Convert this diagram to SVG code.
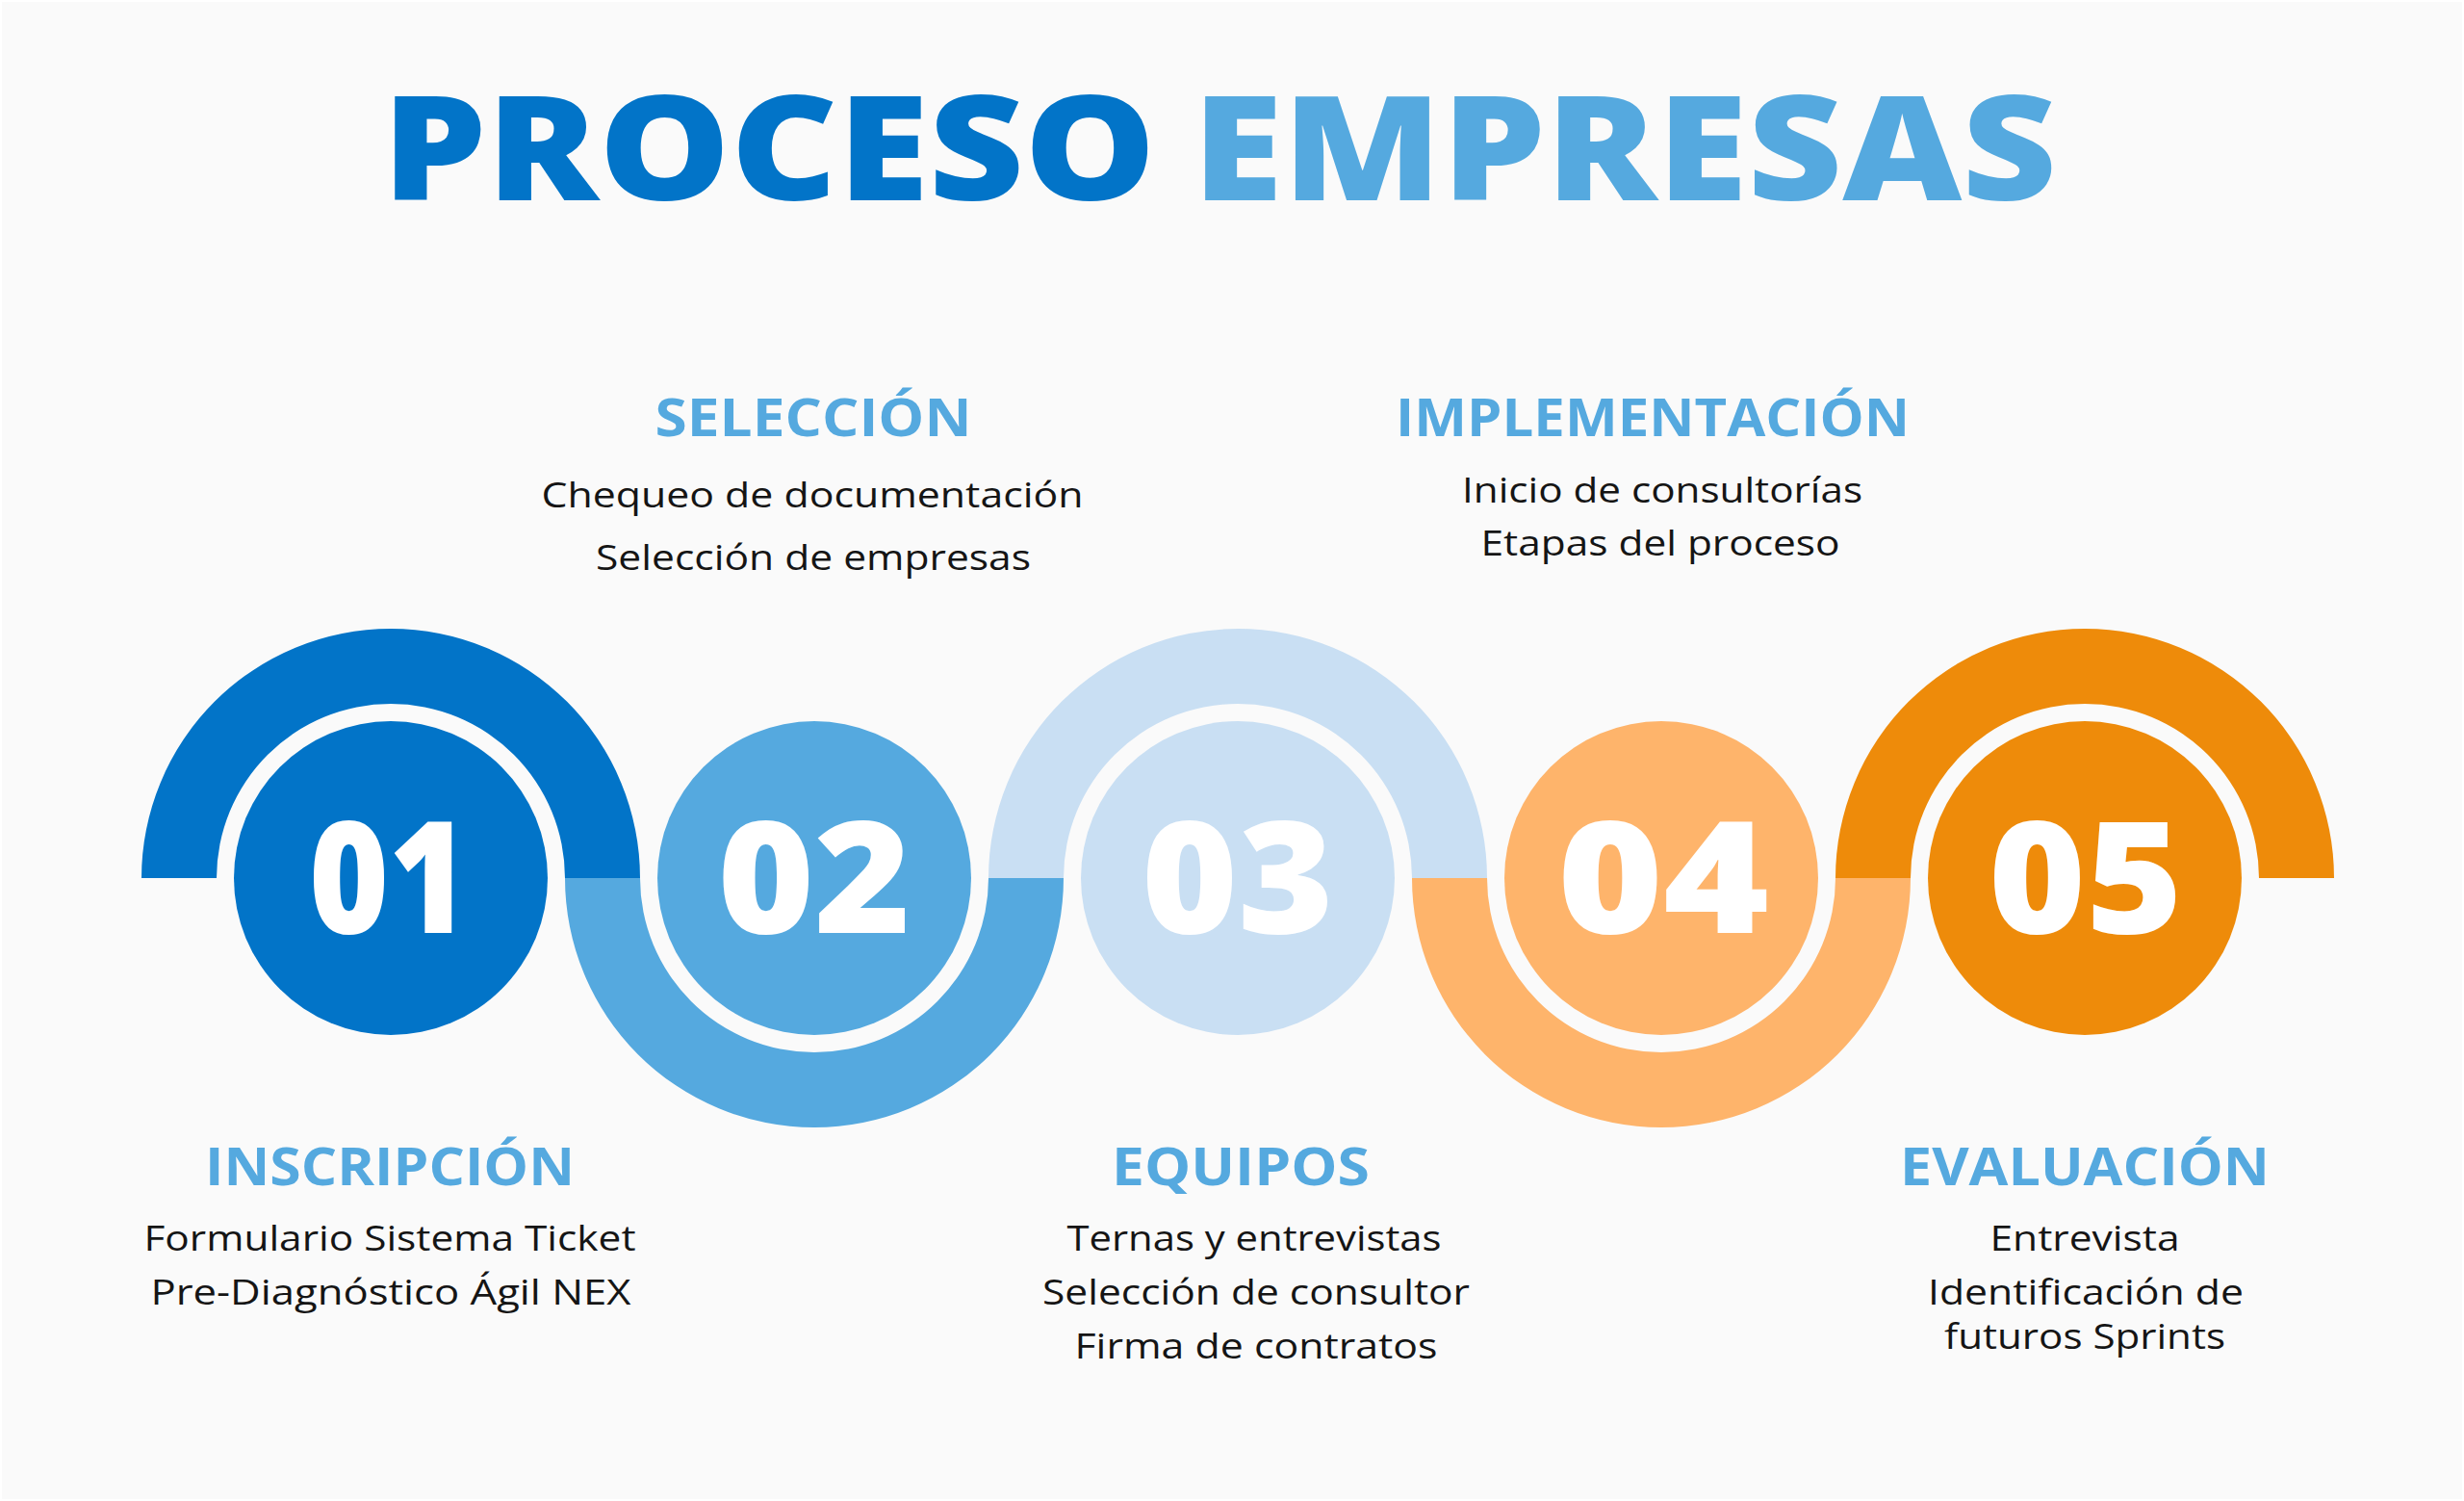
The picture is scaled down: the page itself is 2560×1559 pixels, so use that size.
<svg xmlns="http://www.w3.org/2000/svg" width="2560" height="1559" viewBox="0 0 2560 1559">
  <style>
    .title { font-family: "Open Sans", "Liberation Sans", sans-serif; font-weight: 800; font-size: 151px; text-anchor: middle; }
    .num { font-family: "Open Sans", "Liberation Sans", sans-serif; font-weight: 800; font-size: 161px; fill: #FFFFFF; text-anchor: middle; }
    .head { font-family: "Open Sans", "Liberation Sans", sans-serif; font-weight: 700; font-size: 53px; fill: #55A9DF; text-anchor: middle; }
    .body { font-family: "Open Sans", "Liberation Sans", sans-serif; font-weight: 400; font-size: 36px; fill: #151515; text-anchor: middle; }
    .c1 { fill: #0274C8; }
    .c2 { fill: #55A9DF; }
    .c3 { fill: #C9DFF3; }
    .c4 { fill: #FEB46B; }
    .c5 { fill: #EE8B0A; }
  </style>
  <rect x="0" y="0" width="2560" height="1559" fill="#FFFFFF"/>
  <rect x="2" y="2" width="2556" height="1555" fill="#FAFAFA"/>

  <g id="title">
    <text class="title" x="799" y="208" textLength="804" lengthAdjust="spacingAndGlyphs" fill="#0274C8">PROCESO</text>
    <text class="title" x="1688" y="208" textLength="898" lengthAdjust="spacingAndGlyphs" fill="#55A9DF">EMPRESAS</text>
  </g>

  <g id="connectors">
    <path class="c1" d="M147,912 A259,259 0 0 1 665,912 L587,912 A181,181 0 0 0 225,912 Z"/>
    <path class="c2" d="M587,912 A259,259 0 0 0 1105,912 L1027,912 A181,181 0 0 1 665,912 Z"/>
    <path class="c3" d="M1027,912 A259,259 0 0 1 1545,912 L1467,912 A181,181 0 0 0 1105,912 Z"/>
    <path class="c4" d="M1467,912 A259,259 0 0 0 1985,912 L1907,912 A181,181 0 0 1 1545,912 Z"/>
    <path class="c5" d="M1907,912 A259,259 0 0 1 2425,912 L2347,912 A181,181 0 0 0 1985,912 Z"/>
  </g>

  <g id="step-01">
    <circle class="c1" cx="406" cy="912" r="163"/>
    <text class="num" x="404" y="969" textLength="166" lengthAdjust="spacingAndGlyphs">01</text>
    <text class="head" x="405" y="1231" textLength="384" lengthAdjust="spacingAndGlyphs">INSCRIPCIÓN</text>
    <text class="body" x="405" y="1299" textLength="511" lengthAdjust="spacingAndGlyphs">Formulario Sistema Ticket</text>
    <text class="body" x="406" y="1355" textLength="499" lengthAdjust="spacingAndGlyphs">Pre-Diagnóstico Ágil NEX</text>
  </g>

  <g id="step-02">
    <circle class="c2" cx="846" cy="912" r="163"/>
    <text class="num" x="846" y="969" textLength="201" lengthAdjust="spacingAndGlyphs">02</text>
    <text class="head" x="845" y="453" textLength="329" lengthAdjust="spacingAndGlyphs">SELECCIÓN</text>
    <text class="body" x="844" y="527" textLength="563" lengthAdjust="spacingAndGlyphs">Chequeo de documentación</text>
    <text class="body" x="845" y="592" textLength="452" lengthAdjust="spacingAndGlyphs">Selección de empresas</text>
  </g>

  <g id="step-03">
    <circle class="c3" cx="1286" cy="912" r="163"/>
    <text class="num" x="1286" y="969" textLength="200" lengthAdjust="spacingAndGlyphs">03</text>
    <text class="head" x="1289" y="1231" textLength="268" lengthAdjust="spacingAndGlyphs">EQUIPOS</text>
    <text class="body" x="1303" y="1299" textLength="389" lengthAdjust="spacingAndGlyphs">Ternas y entrevistas</text>
    <text class="body" x="1305" y="1355" textLength="444" lengthAdjust="spacingAndGlyphs">Selección de consultor</text>
    <text class="body" x="1305" y="1411" textLength="377" lengthAdjust="spacingAndGlyphs">Firma de contratos</text>
  </g>

  <g id="step-04">
    <circle class="c4" cx="1726" cy="912" r="163"/>
    <text class="num" x="1728" y="969" textLength="220" lengthAdjust="spacingAndGlyphs">04</text>
    <text class="head" x="1717" y="453" textLength="534" lengthAdjust="spacingAndGlyphs">IMPLEMENTACIÓN</text>
    <text class="body" x="1727" y="522" textLength="416" lengthAdjust="spacingAndGlyphs">Inicio de consultorías</text>
    <text class="body" x="1725" y="577" textLength="373" lengthAdjust="spacingAndGlyphs">Etapas del proceso</text>
  </g>

  <g id="step-05">
    <circle class="c5" cx="2166" cy="912" r="163"/>
    <text class="num" x="2167" y="969" textLength="202" lengthAdjust="spacingAndGlyphs">05</text>
    <text class="head" x="2166" y="1231" textLength="384" lengthAdjust="spacingAndGlyphs">EVALUACIÓN</text>
    <text class="body" x="2166" y="1299" textLength="197" lengthAdjust="spacingAndGlyphs">Entrevista</text>
    <text class="body" x="2167" y="1355" textLength="328" lengthAdjust="spacingAndGlyphs">Identificación de</text>
    <text class="body" x="2166" y="1401" textLength="292" lengthAdjust="spacingAndGlyphs">futuros Sprints</text>
  </g>
</svg>
